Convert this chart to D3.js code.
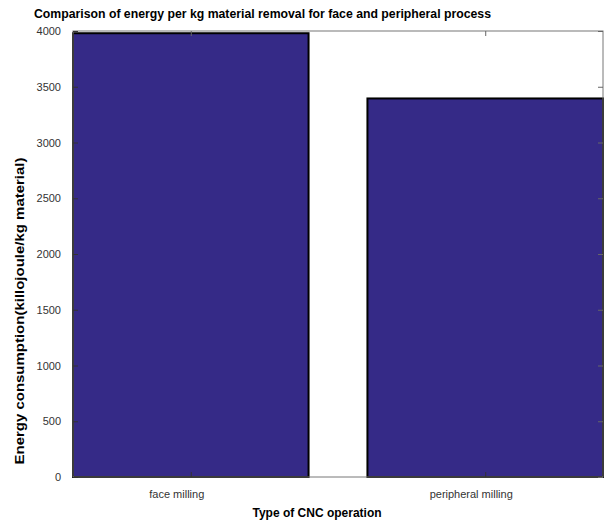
<!DOCTYPE html>
<html>
<head>
<meta charset="utf-8">
<script src="https://cdn.jsdelivr.net/npm/d3@7"></script>
<style>
  html, body { margin: 0; padding: 0; background: #fff; }
  svg { display: block; font-family: "Liberation Sans", Arial, sans-serif; }
</style>
</head>
<body>
<svg id="chart" width="605" height="530"></svg>
<script>
// Energy used per kg of material removed, by CNC operation
const categories = ["face milling", "peripheral milling"];
const energyValues = [3980, 3395];
const yTickValues = [0, 500, 1000, 1500, 2000, 2500, 3000, 3500, 4000];

const svg = d3.select("#chart");
const plot = { left: 73, right: 603, top: 31, bottom: 477 };

// bars sit at x = 1, 2 with width 0.8, like a numeric bar plot
const x = d3.scaleLinear().domain([0.6, 2.4]).range([plot.left, plot.right]);
const y = d3.scaleLinear().domain([0, 4000]).range([plot.bottom, plot.top]);
const positions = categories.map((c, i) => i + 1);
const barHalf = 0.4;

// bars
svg.append("g").selectAll("rect")
  .data(energyValues)
  .join("rect")
  .attr("x", (d, i) => x(positions[i] - barHalf))
  .attr("width", (d, i) => x(positions[i] + barHalf) - x(positions[i] - barHalf))
  .attr("y", d => y(d))
  .attr("height", d => y(0) - y(d))
  .attr("fill", "#352a87")
  .attr("stroke", "#000")
  .attr("stroke-width", 2);

// box outline
svg.append("rect")
  .attr("x", plot.left).attr("y", plot.top)
  .attr("width", plot.right - plot.left).attr("height", plot.bottom - plot.top)
  .attr("fill", "none").attr("stroke", "#777").attr("stroke-width", 1);

// y axis (left, labelled) with inward ticks
const yAxisLeft = svg.append("g")
  .attr("transform", `translate(${plot.left},0)`)
  .call(d3.axisLeft(y).tickValues(yTickValues).tickSize(-5).tickPadding(12).tickFormat(d3.format("d")));
yAxisLeft.select(".domain").remove();
yAxisLeft.selectAll(".tick line").attr("stroke", "#333");
yAxisLeft.selectAll(".tick text")
  .attr("font-size", 11).attr("fill", "#333")
  .attr("font-family", "Liberation Sans, Arial, sans-serif");

// y axis mirror on the right
const yAxisRight = svg.append("g")
  .attr("transform", `translate(${plot.right},0)`)
  .call(d3.axisRight(y).tickValues(yTickValues).tickSize(-5).tickFormat(""));
yAxisRight.select(".domain").remove();
yAxisRight.selectAll(".tick line").attr("stroke", "#666");

// x axis (bottom) with inward ticks at category positions
const xAxisBottom = svg.append("g")
  .attr("transform", `translate(0,${plot.bottom})`)
  .call(d3.axisBottom(x).tickValues(positions).tickSize(-5).tickFormat(""));
xAxisBottom.select(".domain").remove();
xAxisBottom.selectAll(".tick line").attr("stroke", "#333");

const xAxisTop = svg.append("g")
  .attr("transform", `translate(0,${plot.top})`)
  .call(d3.axisTop(x).tickValues(positions).tickSize(-5).tickFormat(""));
xAxisTop.select(".domain").remove();
xAxisTop.selectAll(".tick line").attr("stroke", "#666");

// category labels
svg.append("g").selectAll("text")
  .data(categories)
  .join("text")
  .attr("x", (d, i) => x(positions[i]) - 14)
  .attr("y", 498)
  .attr("text-anchor", "middle")
  .attr("font-size", 11)
  .attr("fill", "#333")
  .text(d => d);

// title
svg.append("text")
  .attr("x", 34).attr("y", 18)
  .attr("font-size", 12).attr("font-weight", "bold")
  .attr("textLength", 457).attr("lengthAdjust", "spacingAndGlyphs")
  .text("Comparison of energy per kg material removal for face and peripheral process");

// axis titles
svg.append("text")
  .attr("x", 317).attr("y", 517)
  .attr("text-anchor", "middle")
  .attr("font-size", 12).attr("font-weight", "bold")
  .text("Type of CNC operation");

svg.append("text")
  .attr("transform", "translate(24,311) rotate(-90)")
  .attr("text-anchor", "middle")
  .attr("font-size", 12).attr("font-weight", "bold")
  .attr("textLength", 307).attr("lengthAdjust", "spacingAndGlyphs")
  .text("Energy consumption(killojoule/kg material)");
</script>
</body>
</html>
